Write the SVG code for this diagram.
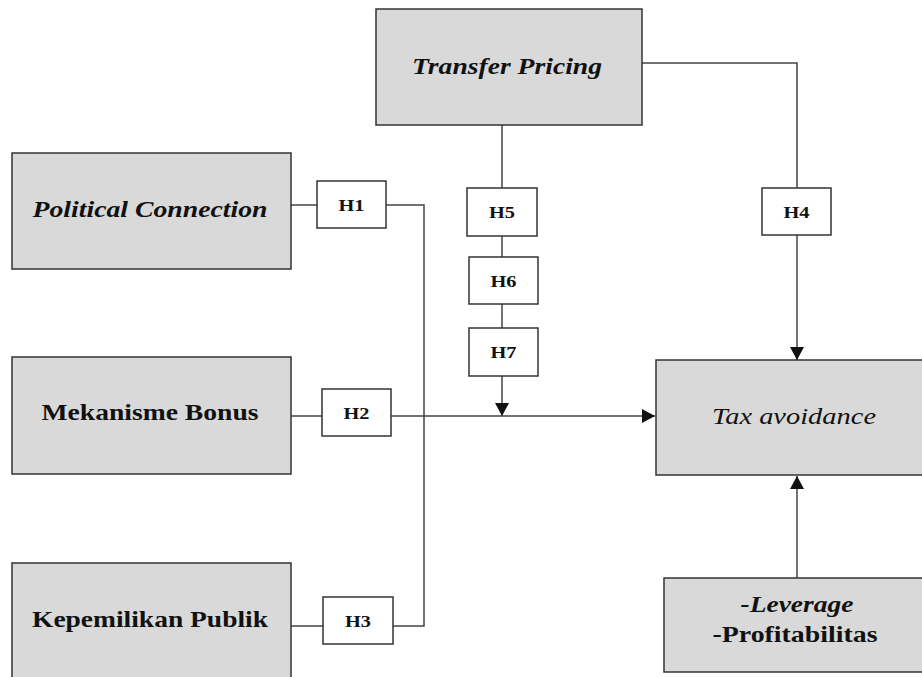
<svg xmlns="http://www.w3.org/2000/svg" width="922" height="677" viewBox="0 0 922 677">
<style>
.box{fill:#d9d9d9;stroke:#333;stroke-width:1.5}
.h{fill:#fff;stroke:#333;stroke-width:1.5}
.t{font-family:'Times New Roman','Liberation Serif',serif;font-weight:bold;fill:#111;text-anchor:middle}
.big{font-size:24px}
.hl{font-size:17px}
.it{font-style:italic}
.ln{fill:none;stroke:#444;stroke-width:1.5}
</style>
<defs>
<marker id="ah" viewBox="0 0 13 14" refX="13" refY="7" markerWidth="13" markerHeight="14" markerUnits="userSpaceOnUse" orient="auto">
<path d="M0,0 L13,7 L0,14 Z" fill="#111"/>
</marker>
</defs>
<rect width="922" height="677" fill="#fff"/>
<g id="connectors">
<polyline class="ln" points="502,125 502,188"/>
<polyline class="ln" points="502,236 502,257"/>
<polyline class="ln" points="502,304 502,328"/>
<polyline class="ln" points="502,376 502,416" marker-end="url(#ah)"/>
<polyline class="ln" points="642,63 797,63 797,188"/>
<polyline class="ln" points="797,235 797,360" marker-end="url(#ah)"/>
<polyline class="ln" points="291,205 317,205"/>
<polyline class="ln" points="386,205 424,205 424,626 393,626"/>
<polyline class="ln" points="323,626 291,626"/>
<polyline class="ln" points="291,416 322,416"/>
<polyline class="ln" points="391,416 655,416" marker-end="url(#ah)"/>
<polyline class="ln" points="797,578 797,476" marker-end="url(#ah)"/>
</g>
<g id="transfer-pricing">
<rect class="box" x="376" y="9" width="266" height="116"/>
<text class="t big it" x="507" y="74" textLength="190" lengthAdjust="spacingAndGlyphs">Transfer Pricing</text>
</g>
<g id="political-connection">
<rect class="box" x="12" y="153" width="279" height="116"/>
<text class="t big it" x="150" y="217" textLength="235" lengthAdjust="spacingAndGlyphs">Political Connection</text>
</g>
<g id="mekanisme-bonus">
<rect class="box" x="12" y="357" width="279" height="117"/>
<text class="t big" x="150" y="420" textLength="217" lengthAdjust="spacingAndGlyphs">Mekanisme Bonus</text>
</g>
<g id="kepemilikan-publik">
<rect class="box" x="12" y="563" width="279" height="130"/>
<text class="t big" x="150" y="627" textLength="236" lengthAdjust="spacingAndGlyphs">Kepemilikan Publik</text>
</g>
<g id="tax-avoidance">
<rect class="box" x="656" y="360" width="280" height="115"/>
<text class="t big it" x="794" y="424" style="font-weight:normal" textLength="164" lengthAdjust="spacingAndGlyphs">Tax avoidance</text>
</g>
<g id="leverage-profitabilitas">
<rect class="box" x="664" y="578" width="280" height="94"/>
<text class="t big it" x="797" y="612" textLength="113" lengthAdjust="spacingAndGlyphs">-Leverage</text>
<text class="t big" x="795" y="642" textLength="165" lengthAdjust="spacingAndGlyphs">-Profitabilitas</text>
</g>
<g id="H1"><rect class="h" x="317" y="181" width="69" height="47"/><text class="t hl" x="351.5" y="211" textLength="26" lengthAdjust="spacingAndGlyphs">H1</text></g>
<g id="H2"><rect class="h" x="322" y="389" width="69" height="47"/><text class="t hl" x="356.5" y="419" textLength="26" lengthAdjust="spacingAndGlyphs">H2</text></g>
<g id="H3"><rect class="h" x="323" y="597" width="70" height="47"/><text class="t hl" x="358" y="627" textLength="26" lengthAdjust="spacingAndGlyphs">H3</text></g>
<g id="H4"><rect class="h" x="762" y="188" width="69" height="47"/><text class="t hl" x="796.5" y="218" textLength="26" lengthAdjust="spacingAndGlyphs">H4</text></g>
<g id="H5"><rect class="h" x="467" y="188" width="70" height="48"/><text class="t hl" x="502" y="218" textLength="26" lengthAdjust="spacingAndGlyphs">H5</text></g>
<g id="H6"><rect class="h" x="469" y="257" width="69" height="47"/><text class="t hl" x="503.5" y="287" textLength="26" lengthAdjust="spacingAndGlyphs">H6</text></g>
<g id="H7"><rect class="h" x="469" y="328" width="69" height="48"/><text class="t hl" x="503.5" y="358" textLength="26" lengthAdjust="spacingAndGlyphs">H7</text></g>
</svg>
